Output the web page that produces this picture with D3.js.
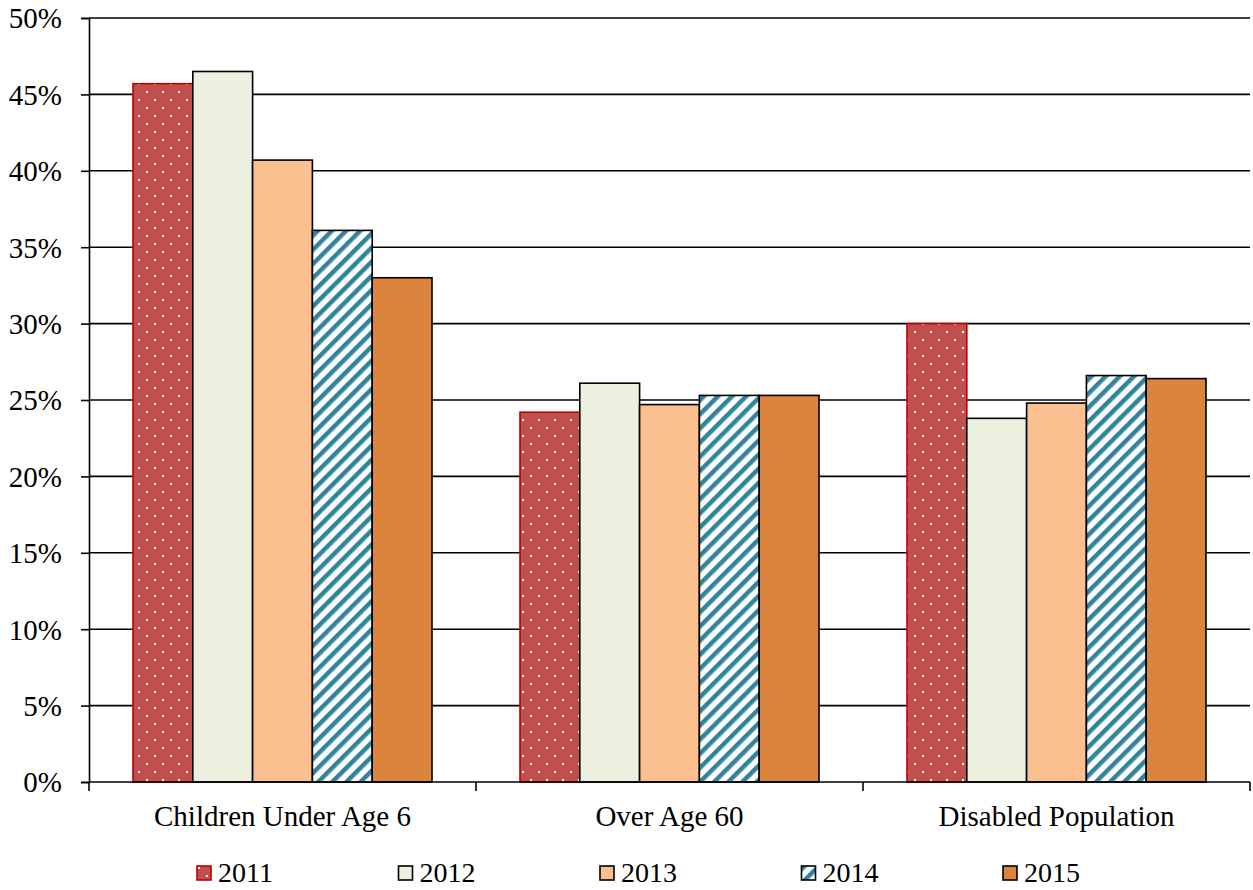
<!DOCTYPE html>
<html>
<head>
<meta charset="utf-8">
<script src="https://cdn.jsdelivr.net/npm/d3@7"></script>
<style>
  html, body { margin: 0; padding: 0; background: #fff; }
  svg { display: block; }
</style>
</head>
<body>
<svg id="chart" width="1253" height="890" font-family="'Liberation Serif', 'Times New Roman', serif"></svg>
<script>
// Share of each population group, by year (percent)
const categories = ["Children Under Age 6", "Over Age 60", "Disabled Population"];
const years = ["2011", "2012", "2013", "2014", "2015"];
const values2011 = [45.7, 24.2, 30.0];
const values2012 = [46.5, 26.1, 23.8];
const values2013 = [40.7, 24.7, 24.8];
const values2014 = [36.1, 25.3, 26.6];
const values2015 = [33.0, 25.3, 26.4];
const yTicks = [0, 5, 10, 15, 20, 25, 30, 35, 40, 45, 50];

const seriesValues = [values2011, values2012, values2013, values2014, values2015];

const FONT = "'Liberation Serif', 'Times New Roman', serif";
const FS = 29;

const svg = d3.select("#chart");
const margin = { left: 89, right: 3, top: 18, bottom: 108 };
const W = 1253, H = 890;
const plotW = W - margin.left - margin.right;
const plotH = H - margin.top - margin.bottom;

const defs = svg.append("defs");

// Dotted red fill
const dots = defs.append("pattern").attr("id", "dots")
  .attr("patternUnits", "userSpaceOnUse").attr("width", 16).attr("height", 16);
dots.append("rect").attr("width", 16).attr("height", 16).attr("fill", "#C0504D");
dots.append("rect").attr("x", 1).attr("y", 1).attr("width", 2).attr("height", 2).attr("fill", "#fff");
dots.append("rect").attr("x", 9).attr("y", 9).attr("width", 2).attr("height", 2).attr("fill", "#fff");

// Wide upward diagonal stripes
const stripes = defs.append("pattern").attr("id", "stripes")
  .attr("patternUnits", "userSpaceOnUse").attr("width", 10).attr("height", 10)
  .attr("patternTransform", "rotate(45)");
stripes.append("rect").attr("width", 10).attr("height", 10).attr("fill", "#fff");
stripes.append("rect").attr("x", 0).attr("width", 4.5).attr("height", 10).attr("fill", "#31849B");

const fills = ["url(#dots)", "#EBF1DE", "#FAC090", "url(#stripes)", "#DB843D"];
const strokes = ["#C00000", "#000", "#000", "#000", "#000"];

const g = svg.append("g").attr("transform", `translate(${margin.left},${margin.top})`);

const x0 = d3.scaleBand().domain(categories).range([0, plotW]).padding(0);
const x1 = d3.scaleBand().domain(years)
  .range([x0.bandwidth() * 0.1137, x0.bandwidth() * (1 - 0.1137)]).padding(0);
const y = d3.scaleLinear().domain([0, 50]).range([plotH, 0]);

// Horizontal gridlines
g.append("g").selectAll("line").data(yTicks.filter(t => t > 0)).join("line")
  .attr("x1", 0).attr("x2", plotW)
  .attr("y1", d => y(d)).attr("y2", d => y(d))
  .attr("stroke", "#000").attr("stroke-width", 1.6);

// Bars
years.forEach((yr, i) => {
  g.append("g").selectAll("rect").data(categories).join("rect")
    .attr("x", c => x0(c) + x1(yr))
    .attr("y", (c, j) => y(seriesValues[i][j]))
    .attr("width", x1.bandwidth())
    .attr("height", (c, j) => plotH - y(seriesValues[i][j]))
    .attr("fill", fills[i])
    .attr("stroke", strokes[i])
    .attr("stroke-width", 1.6);
});

// Y axis
const yAxis = d3.axisLeft(y).tickValues(yTicks).tickFormat(d => d + "%").tickSize(8).tickPadding(19);
const ya = g.append("g").call(yAxis)
  .attr("font-family", FONT).attr("font-size", FS);
ya.selectAll("path").attr("stroke", "#000").attr("stroke-width", 1.6);
ya.selectAll("line").attr("stroke", "#000").attr("stroke-width", 1.6);
ya.selectAll("text").attr("fill", "#000").attr("dy", "0.34em");

// X axis with ticks at category boundaries
const xa = g.append("g").attr("transform", `translate(0,${plotH})`);
xa.append("line").attr("x1", 0).attr("x2", plotW).attr("y1", 0).attr("y2", 0)
  .attr("stroke", "#000").attr("stroke-width", 1.6);
const bounds = categories.map(c => x0(c)).concat([plotW]);
xa.selectAll("line.tick").data(bounds).join("line").attr("class", "tick")
  .attr("x1", d => d).attr("x2", d => d).attr("y1", 0).attr("y2", 9)
  .attr("stroke", "#000").attr("stroke-width", 1.6);
xa.selectAll("text").data(categories).join("text")
  .attr("x", c => x0(c) + x0.bandwidth() / 2)
  .attr("y", 44)
  .attr("text-anchor", "middle")
  .attr("font-family", FONT).attr("font-size", FS)
  .text(c => c);

// Legend
const legend = svg.append("g").attr("transform", "translate(197,866)");
years.forEach((yr, i) => {
  const lg = legend.append("g").attr("transform", `translate(${i * 201.5},0)`);
  lg.append("rect").attr("x", 0).attr("y", 0).attr("width", 14).attr("height", 14)
    .attr("fill", fills[i]).attr("stroke", strokes[i]).attr("stroke-width", 1.6);
  lg.append("text").attr("x", 21).attr("y", 16)
    .attr("font-family", FONT).attr("font-size", 28).text(yr);
});
</script>
</body>
</html>
